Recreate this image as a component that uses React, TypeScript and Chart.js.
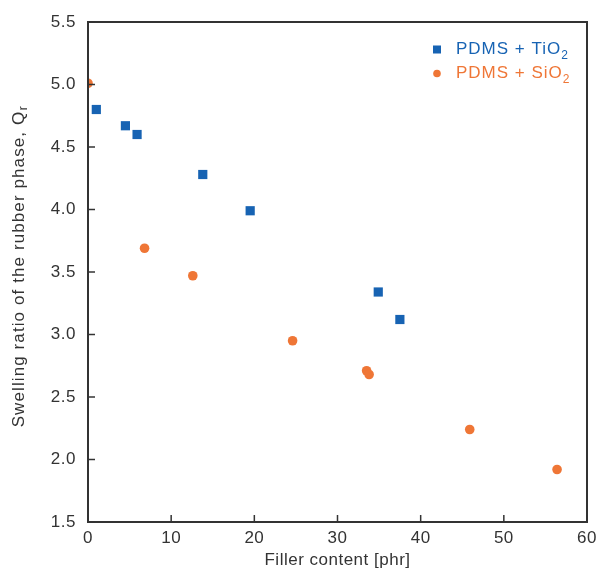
import React, { useEffect, useRef } from "react";
import { Chart, registerables } from "chart.js";

Chart.register(...registerables);

const tiO2X = [1, 4.5, 5.9, 13.8, 19.5, 34.9, 37.5];
const tiO2Y = [4.8, 4.67, 4.6, 4.28, 3.99, 3.34, 3.12];
const siO2X = [0, 6.8, 12.6, 24.6, 33.5, 33.8, 45.9, 56.4];
const siO2Y = [5.01, 3.69, 3.47, 2.95, 2.71, 2.68, 2.24, 1.92];
const xTicks = [0, 10, 20, 30, 40, 50, 60];
const yTicks = [1.5, 2.0, 2.5, 3.0, 3.5, 4.0, 4.5, 5.0, 5.5];
const seriesLabels = ["PDMS + TiO", "PDMS + SiO"];
const xTitle = "Filler content [phr]";
const yTitle = "Swelling ratio of the rubber phase, Q";
const yTitleSub = "r";

const BLUE = "#1763b3";
const ORANGE = "#ef7636";
const FRAME = "#333333";
const FONT = "'Liberation Sans', Arial, Helvetica, sans-serif";

const spacingPlugin = {
  id: "spacingPlugin",
  beforeDraw(chart: any) {
    (chart.ctx as any).letterSpacing = "0.5px";
  },
};

const framePlugin = {
  id: "framePlugin",
  afterDatasetsDraw(chart: any) {
    const { ctx, chartArea: a, scales } = chart;
    ctx.save();
    ctx.strokeStyle = FRAME;
    ctx.lineWidth = 2;
    ctx.strokeRect(a.left, a.top, a.right - a.left, a.bottom - a.top);
    ctx.lineWidth = 1.5;
    const tl = 7;
    scales.x.ticks.forEach((t: any) => {
      const px = scales.x.getPixelForValue(t.value);
      ctx.beginPath();
      ctx.moveTo(px, a.bottom);
      ctx.lineTo(px, a.bottom - tl);
      ctx.stroke();
    });
    scales.y.ticks.forEach((t: any) => {
      const py = scales.y.getPixelForValue(t.value);
      ctx.beginPath();
      ctx.moveTo(a.left, py);
      ctx.lineTo(a.left + tl, py);
      ctx.stroke();
    });

    // y title with subscript
    ctx.fillStyle = FRAME;
    (ctx as any).letterSpacing = "1.1px";
    ctx.font = `17px ${FONT}`;
    const mainW = ctx.measureText(yTitle).width;
    ctx.font = `12px ${FONT}`;
    const subW = ctx.measureText(yTitleSub).width;
    const total = mainW + subW + 1;
    const cy = 266;
    ctx.translate(19, cy);
    ctx.rotate(-Math.PI / 2);
    ctx.textBaseline = "middle";
    ctx.textAlign = "left";
    ctx.font = `17px ${FONT}`;
    ctx.fillText(yTitle, -total / 2, 0);
    ctx.font = `12px ${FONT}`;
    ctx.fillText(yTitleSub, -total / 2 + mainW + 0.5, 5);
    ctx.restore();

    // legend
    ctx.save();
    (ctx as any).letterSpacing = "1px";
    const items = [
      { label: seriesLabels[0], color: BLUE, shape: "rect" },
      { label: seriesLabels[1], color: ORANGE, shape: "circle" },
    ];
    items.forEach((it, i) => {
      const y = 49.5 + i * 24;
      const mx = 437;
      ctx.fillStyle = it.color;
      if (it.shape === "rect") {
        ctx.fillRect(mx - 4, y - 4, 8, 8);
      } else {
        ctx.beginPath();
        ctx.arc(mx, y, 3.8, 0, Math.PI * 2);
        ctx.fill();
      }
      ctx.font = `17px ${FONT}`;
      ctx.textBaseline = "middle";
      ctx.textAlign = "left";
      ctx.fillText(it.label, 456, y);
      const w = ctx.measureText(it.label).width;
      ctx.font = `12px ${FONT}`;
      ctx.fillText("2", 456 + w, y + 6);
    });
    ctx.restore();
  },
};

export default function App() {
  const ref = useRef<HTMLCanvasElement | null>(null);
  useEffect(() => {
    document.body.style.margin = "0";
    if (!ref.current) return;
    const chart = new Chart(ref.current, {
      type: "scatter",
      data: {
        datasets: [
          {
            label: seriesLabels[0] + "2",
            data: tiO2X.map((x, i) => ({ x, y: tiO2Y[i] })),
            backgroundColor: BLUE,
            borderColor: BLUE,
            pointStyle: "rect",
            pointRadius: 6.5,
            borderWidth: 0,
          },
          {
            label: seriesLabels[1] + "2",
            data: siO2X.map((x, i) => ({ x, y: siO2Y[i] })),
            backgroundColor: ORANGE,
            borderColor: ORANGE,
            pointStyle: "circle",
            pointRadius: 4.8,
            borderWidth: 0,
          },
        ],
      },
      options: {
        animation: false,
        responsive: false,
        maintainAspectRatio: false,
        layout: { padding: { top: 22, right: 11, left: 0, bottom: 0 } },
        plugins: {
          legend: { display: false },
          tooltip: { enabled: false },
        },
        scales: {
          x: {
            type: "linear",
            min: 0,
            max: 60,
            afterBuildTicks: (s: any) => {
              s.ticks = xTicks.map((v) => ({ value: v }));
            },
            afterFit: (s: any) => {
              s.height = 52;
              s.paddingRight = 0;
              s.paddingLeft = 0;
            },
            grid: { display: false, drawTicks: false },
            border: { display: false },
            ticks: {
              padding: 6,
              color: FRAME,
              font: { size: 17, family: FONT },
              callback: (v: any) => String(v),
            },
            title: {
              display: true,
              text: xTitle,
              color: FRAME,
              font: { size: 17, family: FONT },
              padding: { top: 2, bottom: 3 },
            },
          },
          y: {
            type: "linear",
            min: 1.5,
            max: 5.5,
            afterBuildTicks: (s: any) => {
              s.ticks = yTicks.map((v) => ({ value: v }));
            },
            afterFit: (s: any) => {
              s.width = 88;
              s.paddingTop = 0;
              s.paddingBottom = 0;
            },
            grid: { display: false, drawTicks: false },
            border: { display: false },
            ticks: {
              padding: 12,
              color: FRAME,
              font: { size: 17, family: FONT },
              callback: (v: any) => Number(v).toFixed(1),
            },
          },
        },
      },
      plugins: [spacingPlugin, framePlugin],
    });
    return () => chart.destroy();
  }, []);
  return (
    <div style={{ width: 598, height: 574, background: "#fff" }}>
      <canvas ref={ref} width={598} height={574} style={{ display: "block" }} />
    </div>
  );
}
